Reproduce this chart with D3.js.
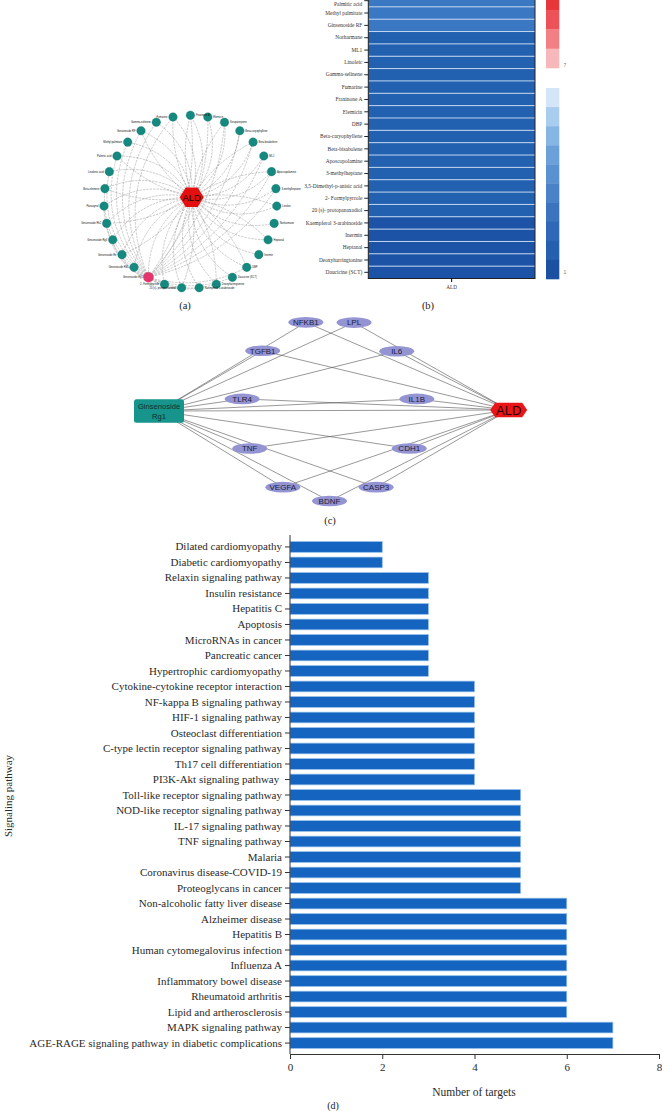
<!DOCTYPE html>
<html><head><meta charset="utf-8">
<script src="https://cdn.jsdelivr.net/npm/d3@7"></script>
<style>body{margin:0;background:#fff} svg{display:block}</style>
</head><body>
<svg id="c" width="662" height="1111"></svg>
<script>
// ===================== DATA =====================
// (d) KEGG pathways and number of targets
const pathways = ["Dilated cardiomyopathy","Diabetic cardiomyopathy","Relaxin signaling pathway","Insulin resistance","Hepatitis C","Apoptosis","MicroRNAs in cancer","Pancreatic cancer","Hypertrophic cardiomyopathy","Cytokine-cytokine receptor interaction","NF-kappa B signaling pathway","HIF-1 signaling pathway","Osteoclast differentiation","C-type lectin receptor signaling pathway","Th17 cell differentiation","PI3K-Akt signaling pathway\u00a0","Toll-like receptor signaling pathway","NOD-like receptor signaling pathway","IL-17 signaling pathway","TNF signaling pathway","Malaria","Coronavirus disease-COVID-19","Proteoglycans in cancer","Non-alcoholic fatty liver disease","Alzheimer disease","Hepatitis B","Human cytomegalovirus infection","Influenza A","Inflammatory bowel disease","Rheumatoid arthritis","Lipid and artherosclerosis","MAPK signaling pathway","AGE-RAGE signaling pathway in diabetic complications"];
const targetCounts = [2,2,3,3,3,3,3,3,3,4,4,4,4,4,4,4,5,5,5,5,5,5,5,6,6,6,6,6,6,6,6,7,7];
const xTicks = [0,2,4,6,8];

// (b) heatmap compounds vs ALD
const heatCompounds = ["Palmitic acid","Methyl palmitate","Ginsenoside RF","Norharmane","ML1","Linoleic","Gamma-selinene","Fumarine","Fraxinone A","Elemicin","DBP","Beta-caryophyllene","Beta-bisabolene","Aposcopolamine","3-methylheptane","3,5-Dimethyl-p-anisic acid","2- Formylpyrrole","20 (s)- protopanaxadiol","Kaempferol 3-arabinoside","Inermin","Heptanal","Deoxyharringtonine","Daucicine (SCT)"];
const heatValues = [3,3,3,2,2,2,2,2,2,2,2,2,2,2,2,2,2,2,1,1,1,1,1];
const heatColumns = ["ALD"];
const colorbarTicks = [1,7];

// (c) Ginsenoside Rg1 - target - ALD network
const ppiSource = "Ginsenoside Rg1";
const ppiDisease = "ALD";
const ppiTargets = ["NFKB1","LPL","TGFB1","IL6","TLR4","IL1B","TNF","CDH1","VEGFA","CASP3","BDNF"];

// (a) compound - ALD network (clockwise from top)
const netCompounds = ["Fraxinone A","Elemicin","Sesquiterpene","Beta-caryophyllene","Beta-bisabolene","ML1","Aposcopolamine","3-methylheptane","Linoleic","Norharmane","Heptanal","Inermin","DBP","Daucicine (SCT)","Deoxyharringtonine","Kaempferol 3-arabinoside","20 (s)- protopanaxadiol","2- Formylpyrrole","Ginsenoside Rg1","Ginsenoside Rb1","Ginsenoside Re","Ginsenoside Rg3","Ginsenoside Rh2","Panaxynol","Beta-elemene","Linolenic acid","Palmitic acid","Methyl palmitate","Ginsenoside RF","Gamma-selinene","Fumarine"];
const netHub = "Ginsenoside Rg1";
const netDisease = "ALD";

// ===================== STYLE / LAYOUT =====================
const SERIF = "'Liberation Serif','Times New Roman',serif";
const SANS = "'Liberation Sans',Arial,sans-serif";
const svg = d3.select("#c");

// ---------------- (a) network ----------------
(function(){
  const g = svg.append("g");
  const ring = {cx:190.4, cy:201.7, r:86.5};
  const hubC = {x:191.7, y:197.3};
  const ang = d3.scaleLinear().domain([0, netCompounds.length]).range([-Math.PI/2, 1.5*Math.PI]);
  const nodes = netCompounds.map((name,i)=>({name,i,a:ang(i),
    x: ring.cx + ring.r*Math.cos(ang(i)), y: ring.cy + ring.r*Math.sin(ang(i)), hub: name===netHub}));
  const hub = nodes.find(d=>d.hub);
  const curve = (p,q,k)=>{
    const mx=(p.x+q.x)/2, my=(p.y+q.y)/2, dx=q.x-p.x, dy=q.y-p.y;
    const pth=d3.path(); pth.moveTo(p.x,p.y);
    pth.quadraticCurveTo(mx - dy*k, my + dx*k, q.x, q.y); return pth.toString();
  };
  const edges = [];
  nodes.forEach(n=>{ edges.push(curve(hubC,n,0.28)); if(n.i%2===0) edges.push(curve(hubC,n,-0.14)); });
  nodes.forEach(n=>{ if(!n.hub && Math.abs(n.i-hub.i)>1 && (n.i<8 || n.i>11)) edges.push(curve(hub,n, n.i>hub.i? -0.3 : 0.2)); });
  g.append("g").selectAll("path").data(edges).join("path")
    .attr("d",d=>d).attr("fill","none").attr("stroke","#7a7a7a")
    .attr("stroke-width",0.45).attr("stroke-dasharray","2.4,1").attr("opacity",0.85);
  g.append("g").selectAll("circle").data(nodes).join("circle")
    .attr("cx",d=>d.x).attr("cy",d=>d.y).attr("r",d=>d.hub?5:4.3)
    .attr("fill",d=>d.hub?"#e5336b":"#15897f").attr("stroke",d=>d.hub?"#c02050":"#0f6f68").attr("stroke-width",0.3);
  g.append("g").selectAll("text").data(nodes).join("text")
    .attr("x",d=>d.x + (Math.cos(d.a)>=0? 5.5:-5.5)).attr("y",d=>d.y+1)
    .attr("text-anchor",d=>Math.cos(d.a)>=0?"start":"end")
    .attr("font-family",SANS).attr("font-size",2.6).attr("fill","#111").text(d=>d.name);
  const hex = d3.range(6).map(k=>[hubC.x+12*Math.cos(k*Math.PI/3), hubC.y+11.3*Math.sin(k*Math.PI/3)]);
  g.append("polygon").attr("points",hex.map(p=>p.join(",")).join(" ")).attr("fill","#e3100f");
  g.append("text").attr("x",hubC.x).attr("y",hubC.y+3.3).attr("text-anchor","middle")
    .attr("font-family",SANS).attr("font-size",9.5).attr("fill","#1a0000").text(netDisease);
  svg.append("text").attr("x",185).attr("y",309).attr("text-anchor","middle")
    .attr("font-family",SERIF).attr("font-size",10.5).attr("fill","#222").text("(a)");
})();

// ---------------- (b) heatmap ----------------
(function(){
  const g = svg.append("g");
  const x = d3.scaleBand().domain(heatColumns).range([368.3,535]);
  const y = d3.scaleBand().domain(heatCompounds).range([-5.5,278.5]);
  const col = d3.scaleLinear().domain([1,2,3]).range(["#1d53a6","#2260b0","#3a78c4"]);
  heatColumns.forEach(c=>{
    g.append("g").selectAll("rect").data(heatCompounds).join("rect")
      .attr("x",x(c)).attr("width",x.bandwidth())
      .attr("y",d=>y(d)).attr("height",y.bandwidth())
      .attr("fill",(d,i)=>col(heatValues[i]));
  });
  g.append("g").selectAll("line").data(heatCompounds.slice(1)).join("line")
    .attr("x1",368.3).attr("x2",535).attr("y1",d=>y(d)).attr("y2",d=>y(d))
    .attr("stroke","#cfe0f4").attr("stroke-width",0.9);
  g.append("rect").attr("x",368.3).attr("y",-5.5).attr("width",535-368.3).attr("height",284)
    .attr("fill","none").attr("stroke","#222").attr("stroke-width",1);
  const ay = g.append("g").attr("transform","translate(368.3,0)")
    .call(d3.axisLeft(y).tickSize(4).tickPadding(2));
  ay.select(".domain").remove();
  ay.selectAll("text").attr("font-family",SERIF).attr("font-size",5.4).attr("fill","#333");
  // keep the top (partly cropped) row label inside the page
  ay.selectAll(".tick").filter(d=>y(d)+y.bandwidth()/2<4).select("text").attr("dy","0.95em");
  ay.selectAll("line").attr("stroke","#222");
  const ax = g.append("g").attr("transform","translate(0,278.5)")
    .call(d3.axisBottom(x).tickSize(3.5).tickPadding(3));
  ax.select(".domain").remove();
  ax.selectAll("text").attr("font-family",SERIF).attr("font-size",5.2).attr("fill","#333");
  // colorbar
  const blues = ["#d3e5f6","#a9cdee","#86b6e4","#6ba0d9","#5a91d0","#4a82c7","#3b73be","#2f68b6","#2560ae","#1c51a2"];
  const reds = ["#e8373b","#ec5257","#f17f83","#f6b8ba"];
  const yb = d3.scaleBand().domain(d3.range(blues.length)).range([88,279]);
  const yr = d3.scaleBand().domain(d3.range(reds.length)).range([-9.3,68]);
  g.append("g").selectAll("rect").data(blues).join("rect")
    .attr("x",546).attr("width",13.3).attr("y",(d,i)=>yb(i)).attr("height",yb.bandwidth()+0.3).attr("fill",d=>d);
  g.append("g").selectAll("rect").data(reds).join("rect")
    .attr("x",546).attr("width",13.3).attr("y",(d,i)=>yr(i)).attr("height",yr.bandwidth()+0.3).attr("fill",d=>d);
  const cbScale = d3.scaleOrdinal().domain(colorbarTicks).range([272,65]);
  g.append("g").selectAll("text").data(colorbarTicks).join("text")
    .attr("x",563.5).attr("y",d=>cbScale(d)+1.5).attr("font-family",SANS).attr("font-size",5)
    .attr("fill","#777").text(d=>d);
  svg.append("text").attr("x",428).attr("y",309).attr("text-anchor","middle")
    .attr("font-family",SERIF).attr("font-size",10.5).attr("fill","#222").text("(b)");
})();

// ---------------- (c) PPI ----------------
(function(){
  const g = svg.append("g");
  // layout: angle on an ellipse (degrees) for each target
  const ppiAngles = [-105.6,-73.8,-139.4,-40.2,187,-7,155,25,122,58,90];
  const ex = d3.scaleLinear().domain([-1,1]).range([329.5-88,329.5+88]);
  const ey = d3.scaleLinear().domain([-1,1]).range([410-91,410+91]);
  const tnodes = ppiTargets.map((t,i)=>{const a=ppiAngles[i]*Math.PI/180; return {name:t,x:ex(Math.cos(a)),y:ey(Math.sin(a))};});
  const src = {x:159,y:411}, dis = {x:508.7,y:410};
  const links = [];
  tnodes.forEach(n=>{links.push([src,n]); links.push([n,dis]);});
  links.push([src,dis]);
  g.append("g").selectAll("line").data(links).join("line")
    .attr("x1",d=>d[0].x).attr("y1",d=>d[0].y).attr("x2",d=>d[1].x).attr("y2",d=>d[1].y)
    .attr("stroke","#444").attr("stroke-width",0.55);
  g.append("g").selectAll("ellipse").data(tnodes).join("ellipse")
    .attr("cx",d=>d.x).attr("cy",d=>d.y).attr("rx",17.5).attr("ry",5.3).attr("fill","#9494d2");
  g.append("g").selectAll("text").data(tnodes).join("text")
    .attr("x",d=>d.x).attr("y",d=>d.y+2.8).attr("text-anchor","middle")
    .attr("font-family",SANS).attr("font-size",8).attr("fill","#1b1b3a").text(d=>d.name);
  g.append("rect").attr("x",src.x-25).attr("y",src.y-11.7).attr("width",50).attr("height",23.4)
    .attr("rx",2.5).attr("fill","#17948c");
  const words = ppiSource.split(" ");
  g.append("text").attr("x",src.x).attr("y",src.y-2).attr("text-anchor","middle")
    .attr("font-family",SANS).attr("font-size",7.6).attr("fill","#10302e").text(words[0]);
  g.append("text").attr("x",src.x).attr("y",src.y+8).attr("text-anchor","middle")
    .attr("font-family",SANS).attr("font-size",7.6).attr("fill","#10302e").text(words[1]);
  const hw=18.5, hh=7.2;
  const arrow = [[dis.x-hw,dis.y],[dis.x-hw+5,dis.y-hh],[dis.x+hw-5,dis.y-hh],[dis.x+hw,dis.y],[dis.x+hw-5,dis.y+hh],[dis.x-hw+5,dis.y+hh]];
  g.append("polygon").attr("points",arrow.map(p=>p.join(",")).join(" ")).attr("fill","#ea1519");
  g.append("text").attr("x",dis.x).attr("y",dis.y+4.6).attr("text-anchor","middle")
    .attr("font-family",SANS).attr("font-size",13).attr("fill","#2a0000").text(ppiDisease);
  svg.append("text").attr("x",330).attr("y",524).attr("text-anchor","middle")
    .attr("font-family",SERIF).attr("font-size",10.5).attr("fill","#222").text("(c)");
})();

// ---------------- (d) bar chart ----------------
(function(){
  const g = svg.append("g");
  const x = d3.scaleLinear().domain([0,8]).range([290,659]);
  const y = d3.scaleBand().domain(pathways).range([539.2,1050.8]).paddingInner(0.31).paddingOuter(0.155);
  g.append("g").selectAll("rect").data(pathways).join("rect")
    .attr("x",x(0)).attr("y",d=>y(d)).attr("height",y.bandwidth())
    .attr("width",(d,i)=>x(targetCounts[i])-x(0))
    .attr("fill","#1565c0").attr("stroke","#8fbdea").attr("stroke-width",0.7);
  const ay = g.append("g").attr("transform","translate(290,0)")
    .call(d3.axisLeft(y).tickSize(5).tickPadding(3));
  ay.select(".domain").remove();
  ay.selectAll("line").attr("stroke","#333");
  ay.selectAll("text").attr("font-family",SERIF).attr("font-size",11).attr("fill","#2a2a2a").style("white-space","pre");
  g.append("line").attr("x1",290).attr("x2",290).attr("y1",535).attr("y2",1054).attr("stroke","#333").attr("stroke-width",1);
  const ax = g.append("g").attr("transform","translate(0,1054)")
    .call(d3.axisBottom(x).tickValues(xTicks).tickFormat(d3.format("d")).tickSize(5).tickPadding(4));
  ax.select(".domain").attr("stroke","#333");
  ax.selectAll("line").attr("stroke","#333");
  ax.selectAll("text").attr("font-family",SERIF).attr("font-size",11).attr("fill","#2a2a2a");
  g.append("text").attr("x",474).attr("y",1096).attr("text-anchor","middle")
    .attr("font-family",SERIF).attr("font-size",11.5).attr("fill","#2a2a2a").text("Number of targets");
  g.append("text").attr("transform","translate(12,796) rotate(-90)").attr("text-anchor","middle")
    .attr("font-family",SERIF).attr("font-size",11).attr("fill","#2a2a2a").text("Signaling pathway");
  svg.append("text").attr("x",333).attr("y",1108.5).attr("text-anchor","middle")
    .attr("font-family",SERIF).attr("font-size",10).attr("fill","#222").text("(d)");
})();
</script>
</body></html>
